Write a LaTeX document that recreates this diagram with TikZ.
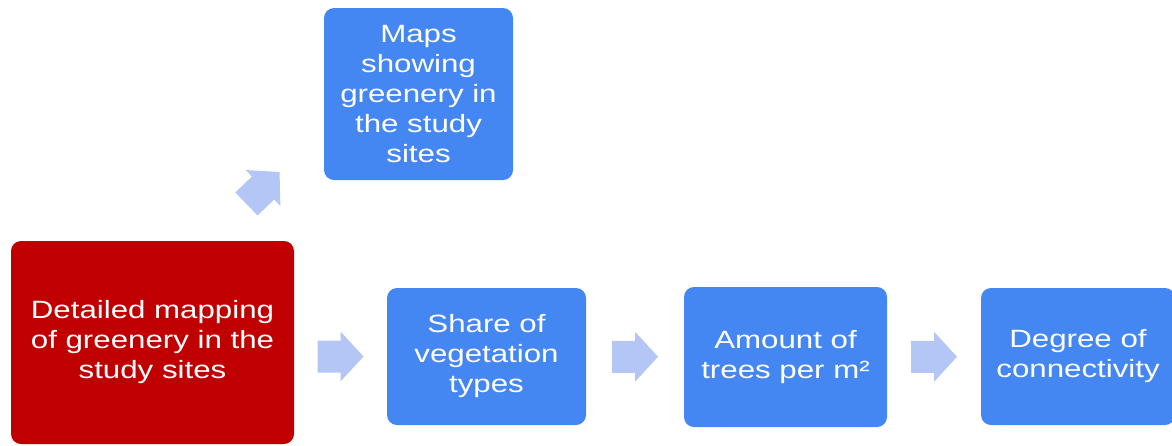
\documentclass[tikz,border=0pt]{standalone}
\usepackage{fontspec}
\setmainfont{Liberation Sans}[FakeStretch=1.25]
\usetikzlibrary{calc}

\definecolor{stepred}{HTML}{C00000}
\definecolor{stepblue}{HTML}{4587F2}
\definecolor{arrowblue}{HTML}{B4C6F5}

\tikzset{
  box/.style={rounded corners=10pt, text=white, align=center, inner sep=0pt,
    font=\fontsize{25}{30}\selectfont},
  fatarrow/.pic={
    \fill[arrowblue] (-23,-16) -- (0,-16) -- (0,-25) -- (23,0) -- (0,25) -- (0,16) -- (-23,16) -- cycle;
  }
}

\begin{document}
\begin{tikzpicture}[x=1pt,y=-1pt]
  \useasboundingbox (0,0) rectangle (1172,445);
  % draw the boxes
  \node[box, fill=stepred, minimum width=283pt, minimum height=203pt] (detail) at (152.5,342.5) {Detailed mapping\\of greenery in the\\study sites};
  \node[box, fill=stepblue, minimum width=189pt, minimum height=172pt] (maps) at (418.5,94) {Maps\\showing\\greenery in\\the study\\sites};
  \node[box, fill=stepblue, minimum width=199pt, minimum height=137pt] (share) at (486.5,356.5) {Share of\\vegetation\\types};
  \node[box, fill=stepblue, minimum width=203pt, minimum height=140pt] (amount) at (785.5,357) {Amount of\\trees per m²};
  \node[box, fill=stepblue, minimum width=194pt, minimum height=137pt] (degree) at (1078,356.5) {Degree of\\connectivity};
  % draw the block arrows
  \pic[rotate=44] at (263,188) {fatarrow};
  \pic at ($(detail.east |- share.west)!0.5!(share.west)$) {fatarrow};
  \pic at ($(share.east)!0.5!(amount.west)$) {fatarrow};
  \pic at ($(amount.east)!0.5!(degree.west)$) {fatarrow};
\end{tikzpicture}
\end{document}
